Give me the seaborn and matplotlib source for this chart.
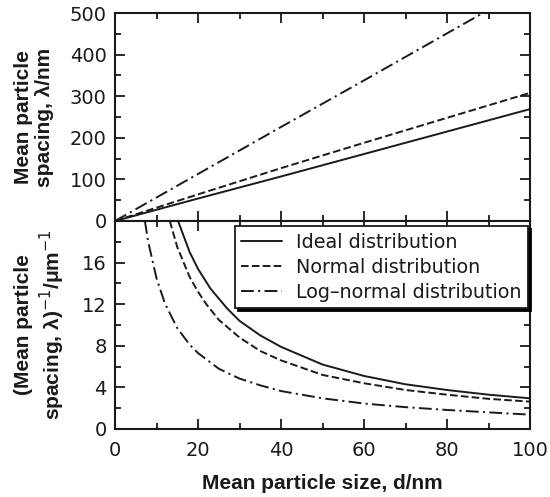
import numpy as np
import pandas as pd
import matplotlib
matplotlib.use("Agg")
import matplotlib.pyplot as plt
from matplotlib.ticker import MultipleLocator
import seaborn as sns

# valeurs
d_top = [0, 20, 40, 60, 80, 100]
spacing_ideal = [0, 54, 107, 161, 215, 269]
spacing_normal = [0, 64, 127, 188, 248, 308]
spacing_lognormal = [0, 113, 226, 338, 451, 564]

d_ideal = [15.2, 18, 20, 23, 27, 30, 35, 40, 50, 60, 70, 80, 90, 100]
inv_ideal = [20, 17.0, 15.4, 13.5, 11.6, 10.4, 9.0, 7.9, 6.2, 5.1, 4.3, 3.75, 3.3, 2.95]
d_normal = [13.2, 15, 18, 20, 22, 25, 30, 35, 40, 50, 60, 70, 80, 90, 100]
inv_normal = [20, 17.5, 14.6, 13.2, 12.0, 10.5, 8.8, 7.5, 6.6, 5.2, 4.4, 3.75, 3.3, 2.9, 2.63]
d_lognormal = [7.2, 8, 10, 12, 15, 18, 20, 25, 30, 35, 40, 50, 60, 70, 80, 90, 100]
inv_lognormal = [20, 18, 14.5, 12.1, 9.7, 8.1, 7.3, 5.8, 4.85, 4.2, 3.65, 2.95, 2.45, 2.1, 1.83, 1.6, 1.38]

labels = ["Ideal distribution", "Normal distribution", "Log\u2013normal distribution"]
styles = ["-", (0, (3.9, 1.7)), (0, (6.6, 2.2, 1.1, 2.2))]

sns.set_theme(style="ticks")
plt.rcParams["font.family"] = ["DejaVu Sans"]
plt.rcParams["axes.linewidth"] = 1.5
plt.rcParams["xtick.direction"] = "in"
plt.rcParams["ytick.direction"] = "in"
plt.rcParams["text.color"] = "k"
plt.rcParams["axes.labelcolor"] = "k"
plt.rcParams["xtick.color"] = "k"
plt.rcParams["ytick.color"] = "k"

fig = plt.figure(figsize=(5.5, 4.97), dpi=100)
left, width = 115 / 550, 415 / 550
ax1 = fig.add_axes([left, 1 - 221 / 497, width, 208 / 497])
ax2 = fig.add_axes([left, 1 - 429 / 497, width, 208 / 497], sharex=ax1)

top_series = [spacing_ideal, spacing_normal, spacing_lognormal]
for y, ls, lab in zip(top_series, styles, labels):
    sns.lineplot(x=d_top, y=y, ax=ax1, color="k", linestyle=ls, lw=1.4, legend=False)

bot_series = [(d_ideal, inv_ideal), (d_normal, inv_normal), (d_lognormal, inv_lognormal)]
handles = []
for (x, y), ls, lab in zip(bot_series, styles, labels):
    sns.lineplot(x=x, y=y, ax=ax2, color="k", linestyle=ls, lw=1.4, legend=False)
    handles.append(ax2.lines[-1])

ax1.set_xlim(0, 100)
ax1.set_ylim(0, 500)
ax2.set_ylim(0, 20)

for ax in (ax1, ax2):
    ax.xaxis.set_major_locator(MultipleLocator(20))
    ax.xaxis.set_minor_locator(MultipleLocator(10))
    ax.tick_params(which="both", top=True, right=True, width=1.3, labelsize=14, pad=6)
    ax.tick_params(which="major", length=7)
    ax.tick_params(which="minor", length=4)
    ax.set_xlabel("")
    ax.set_ylabel("")
    for s in ax.spines.values():
        s.set_color("k")

ax1.yaxis.set_major_locator(MultipleLocator(100))
ax1.yaxis.set_minor_locator(MultipleLocator(50))
ax1.tick_params(labelbottom=False)
ax2.set_yticks([0, 4, 8, 12, 16])
ax2.yaxis.set_minor_locator(MultipleLocator(2))
ax2.tick_params(axis="x", pad=9)

# étiquettes des axes
lab_font = dict(fontsize=15, family="Liberation Sans", rotation=90, ha="center", va="center")
ax1.text(-0.22, 0.5, "Mean particle", transform=ax1.transAxes, fontweight="bold", **lab_font)
ax1.text(-0.17, 0.5, "spacing, \u03bb/nm", transform=ax1.transAxes, fontweight="bold", **lab_font)
ax2.text(-0.22, 0.5, "(Mean particle", transform=ax2.transAxes, fontweight="bold", **lab_font)
ax2.text(-0.152, 0.5, "spacing, \u03bb)$^{-1}$/\u03bcm$^{-1}$", transform=ax2.transAxes,
         fontweight="bold", **lab_font)
ax2.set_xlabel("Mean particle size, d/nm", fontsize=15, fontweight="bold",
               family="Liberation Sans", labelpad=10)

leg = ax2.legend(handles, labels, loc="upper right", bbox_to_anchor=(0.995, 0.974),
                 borderaxespad=0, fontsize=13.8, frameon=True, fancybox=False,
                 shadow={"color": "black", "alpha": 1}, handlelength=2.15,
                 handletextpad=0.73, borderpad=0.32, labelspacing=0.32)
leg.get_frame().set_edgecolor("k")
leg.get_frame().set_linewidth(1.3)
leg.get_frame().set_alpha(1)

fig.savefig("out.png", dpi=100)
